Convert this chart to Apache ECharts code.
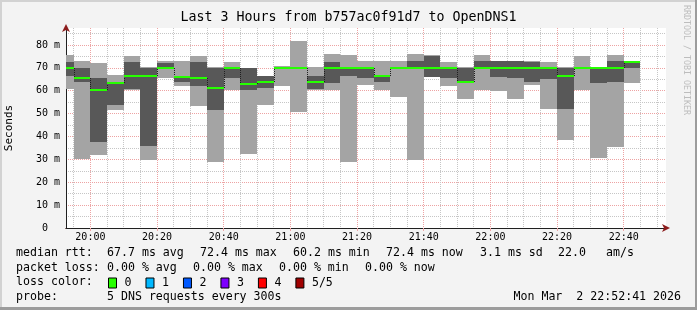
<!DOCTYPE html>
<html>
<head>
<meta charset="utf-8">
<script src="https://cdn.jsdelivr.net/npm/echarts@6/dist/echarts.min.js"></script>
<style>
html,body{margin:0;padding:0;background:#f3f3f3;}
#chart{width:697px;height:310px;}
</style>
</head>
<body>
<div id="chart"></div>
<script>
// ---------------- data ----------------
const title = 'Last 3 Hours from b757ac0f91d7 to OpenDNS1';
const rangeStart = '19:52:41';
const rangeEnd = '22:52:41';
// 5-minute bin boundaries (bar i spans binBounds[i] .. binBounds[i+1])
const binBounds = ['19:52:41','19:55','20:00','20:05','20:10','20:15','20:20','20:25','20:30','20:35',
  '20:40','20:45','20:50','20:55','21:00','21:05','21:10','21:15','21:20','21:25','21:30','21:35',
  '21:40','21:45','21:50','21:55','22:00','22:05','22:10','22:15','22:20','22:25','22:30','22:35',
  '22:40','22:45'];
// sorted pings (ms) per bin: min, 2nd, median, 4th, max
const pingMin = [60.8,30.0,31.7,51.4,60.3,29.6,65.7,62.2,53.5,29.0,60.5,32.2,53.9,61.9,50.8,60.5,60.3,29.0,
  62.6,60.3,57.1,29.6,65.9,62.2,56.5,60.3,59.9,56.5,62.6,51.9,38.3,60.3,30.4,35.2,63.2];
const ping2 = [66.3,63.7,37.4,53.9,60.8,36.0,69.6,63.8,61.9,51.4,65.7,60.5,61.0,69.9,69.5,60.6,63.2,66.3,
  65.7,63.7,69.8,69.9,66.0,65.4,63.2,69.9,66.0,65.7,63.7,65.0,51.9,69.9,63.2,63.7,69.8];
const pingMedian = [69.8,65.7,60.2,63.2,66.3,66.3,69.8,66.0,65.7,61.0,69.8,63.1,63.7,70.1,69.8,63.7,70.1,70.1,
  69.8,66.3,70.1,70.1,70.1,69.8,63.7,70.1,70.1,70.1,70.1,69.8,66.3,70.1,70.0,70.1,72.4];
const ping4 = [72.7,69.8,65.7,63.5,72.7,70.1,72.3,66.4,72.7,70.1,70.0,69.8,66.3,70.3,70.1,66.6,72.7,70.2,
  70.0,67.0,70.4,73.1,75.2,70.0,70.1,73.1,73.1,73.1,72.7,70.0,70.1,70.3,70.1,73.1,72.6];
const pingMax = [75.8,73.1,72.3,67.0,75.3,70.3,73.1,73.1,75.3,70.3,72.7,69.9,66.5,70.8,81.9,70.4,76.2,75.8,
  73.1,73.1,73.1,76.2,75.5,72.7,70.2,75.8,73.2,73.2,73.1,72.7,70.2,75.3,70.2,75.8,72.7];

const yMax = 87.43;                       // top of plot (ms)
const yLabelSuffix = ' m';
const lossNames = ['0','1','2','3','4','5/5'];
const lossColors = ['#26ff00','#00b8ff','#0059ff','#7e00ff','#ff0000','#a00000'];

const rttLabel = 'median rtt:';
const rttStats = ['67.7 ms avg','72.4 ms max','60.2 ms min','72.4 ms now','3.1 ms sd','22.0','am/s'];
const lossLabel = 'packet loss:';
const lossStats = ['0.00 % avg','0.00 % max','0.00 % min','0.00 % now'];
const lossColorLabel = 'loss color:';
const probeLabel = 'probe:';
const probeText = '5 DNS requests every 300s';
const stampText = 'Mon Mar  2 22:52:41 2026';
const creditText = 'RRDTOOL / TOBI OETIKER';

// ---------------- helpers ----------------
function toMin(s){const p=s.split(':').map(Number);return p[0]*60+p[1]+(p[2]||0)/60;}
function fmtTime(v){const h=Math.floor(v/60), m=Math.round(v-h*60);return String(h).padStart(2,'0')+':'+String(m).padStart(2,'0');}
const isMult=(v,k)=>Math.abs(v/k-Math.round(v/k))<1e-6;

const T0 = toMin(rangeStart), T1 = toMin(rangeEnd);
const bars = pingMedian.map((m,i)=>[toMin(binBounds[i]),toMin(binBounds[i+1]),pingMin[i],ping2[i],m,ping4[i],pingMax[i],i>0?pingMedian[i-1]:m]);

const MONO = "'DejaVu Sans Mono', monospace";
const RED = '#eda3a3', GREY = '#c6c6c6', ARROW = '#8c1c1c';

function renderItem(params, api){
  const xs=api.value(0), xe=api.value(1);
  const R=Math.round;
  const top=api.coord([xs,api.value(6)]), bot=api.coord([xe,api.value(2)]);
  const dt=api.coord([xs,api.value(5)]), db=api.coord([xe,api.value(3)]);
  const m0=api.coord([xs,api.value(4)]), m1=api.coord([xe,api.value(4)]);
  const pm=api.coord([xs,api.value(7)]);
  const x0=R(top[0]), x1=R(bot[0]);
  const my=R(m0[1]);
  const ch=[
    {type:'rect',shape:{x:x0,y:R(top[1]),width:x1-x0,height:R(bot[1])-R(top[1])},style:{fill:'#a4a4a4'}},
    {type:'rect',shape:{x:x0,y:R(dt[1]),width:x1-x0,height:R(db[1])-R(dt[1])},style:{fill:'#585858'}}
  ];
  if (Math.abs(R(pm[1])-my)>1){
    ch.push({type:'line',shape:{x1:x0+0.5,y1:R(pm[1]),x2:x0+0.5,y2:my},style:{stroke:'#202020',lineWidth:1,lineDash:[1,1]}});
  }
  ch.push({type:'line',shape:{x1:x0,y1:my,x2:x1,y2:my},style:{stroke:lossColors[0],lineWidth:2}});
  return {type:'group',children:ch};
}

function txt(text,x,y,opt){
  return Object.assign({type:'text',x:x,y:y,silent:true,
    style:{text:text,font:'11.6px '+MONO,fill:'#000',align:'left',verticalAlign:'middle'}},opt||{});
}

const row1=253,row2=268,row3=282,row4=297;
const rttX=[107,200,293,386,480,558,606];
const lossX=[107,193,279,365];
const graphics=[
  {type:'rect',shape:{x:0,y:0,width:697,height:2},style:{fill:'#d2d2d2'},silent:true},
  {type:'rect',shape:{x:0,y:0,width:2,height:310},style:{fill:'#d2d2d2'},silent:true},
  {type:'rect',shape:{x:0,y:307,width:697,height:3},style:{fill:'#9c9c9c'},silent:true},
  {type:'rect',shape:{x:695,y:0,width:2,height:310},style:{fill:'#9c9c9c'},silent:true},
  txt(rttLabel,16,row1),
  txt(lossLabel,16,row2),
  txt(lossColorLabel,16,row3),
  txt(probeLabel,16,row4),
  txt(probeText,107,row4),
  txt(stampText,681,row4,{style:{text:stampText,font:'11.6px '+MONO,fill:'#000',align:'right',verticalAlign:'middle'}}),
  {type:'text',x:686,y:5,rotation:-Math.PI/2,silent:true,
    style:{text:creditText,font:'8.3px '+MONO,fill:'#bdbdbd',align:'left',verticalAlign:'middle'}}
];
rttStats.forEach((s,i)=>graphics.push(txt(s,rttX[i],row1)));
lossStats.forEach((s,i)=>graphics.push(txt(s,lossX[i],row2)));

const chart = echarts.init(document.getElementById('chart'), null, {renderer:'canvas'});
const legendSeries = lossNames.map((n,i)=>({type:'line',name:n,data:[],itemStyle:{color:lossColors[i]},lineStyle:{color:lossColors[i]}}));

chart.setOption({
  animation:false,
  backgroundColor:'#f3f3f3',
  title:{text:title,left:'center',top:11,padding:0,
    textStyle:{fontFamily:MONO,fontSize:13.3,fontWeight:'normal',color:'#000'}},
  grid:{left:66,top:28,width:600,height:200,show:true,backgroundColor:'#ffffff',borderWidth:0,outerBoundsMode:'none',containLabel:false},
  legend:{left:108,top:277,padding:0,itemWidth:8,itemHeight:10,itemGap:14,icon:'rect',selectedMode:false,
    itemStyle:{borderColor:'#000',borderWidth:1},
    textStyle:{fontFamily:MONO,fontSize:11.6,color:'#000',padding:[0,0,0,3]},
    data:lossNames},
  xAxis:[
    { // minor 5-min grid + arrow
      type:'value',position:'bottom',min:T0,max:T1,splitNumber:36,minInterval:5,maxInterval:5,
      axisLine:{show:true,lineStyle:{color:ARROW,width:1},symbol:['none','arrow'],symbolSize:[6,8],symbolOffset:[0,4]},
      axisTick:{show:false},axisLabel:{show:false},
      splitLine:{show:true,showMinLine:false,showMaxLine:false,lineStyle:{color:GREY,width:1,type:[1,1]}}
    },
    { // major 20-min grid + labels
      type:'value',position:'bottom',min:T0,max:T1,splitNumber:9,minInterval:20,maxInterval:20,
      axisLine:{show:true,lineStyle:{color:'#202020',width:1}},
      axisTick:{show:true,length:3,lineStyle:{color:RED}},
      axisLabel:{show:true,margin:4,showMinLabel:false,showMaxLabel:false,fontFamily:MONO,fontSize:10,color:'#000',
        formatter:v=>isMult(v,20)?fmtTime(v):''},
      splitLine:{show:true,showMinLine:false,showMaxLine:false,lineStyle:{color:RED,width:1,type:[1,1]}}
    }
  ],
  yAxis:[
    {
      type:'value',position:'left',min:0,max:yMax,interval:5,
      axisLine:{show:true,lineStyle:{color:ARROW,width:1},symbol:['none','arrow'],symbolSize:[6,8],symbolOffset:[0,4]},
      axisTick:{show:false},axisLabel:{show:false},
      splitLine:{show:true,showMinLine:false,showMaxLine:false,lineStyle:{color:GREY,width:1,type:[1,1]}}
    },
    {
      type:'value',position:'left',min:0,max:yMax,interval:10,
      name:'Seconds',nameLocation:'middle',nameGap:51,nameRotate:90,
      nameTextStyle:{fontFamily:MONO,fontSize:11,color:'#000'},
      axisLine:{show:true,lineStyle:{color:'#202020',width:1}},
      axisTick:{show:false},
      axisLabel:{show:true,margin:6,showMaxLabel:false,fontFamily:MONO,fontSize:10,color:'#000',
        formatter:v=>v===0?'0  ':(isMult(v,10)?Math.round(v)+yLabelSuffix:'')},
      splitLine:{show:true,showMinLine:false,showMaxLine:false,lineStyle:{color:RED,width:1,type:[1,1]}}
    }
  ],
  series:[
    {type:'custom',name:'smoke',xAxisIndex:1,yAxisIndex:1,renderItem:renderItem,
     encode:{x:[0,1],y:[2,3,4,5,6]},data:bars,clip:true,silent:true}
  ].concat(legendSeries),
  graphic:graphics
});
</script>
</body>
</html>
